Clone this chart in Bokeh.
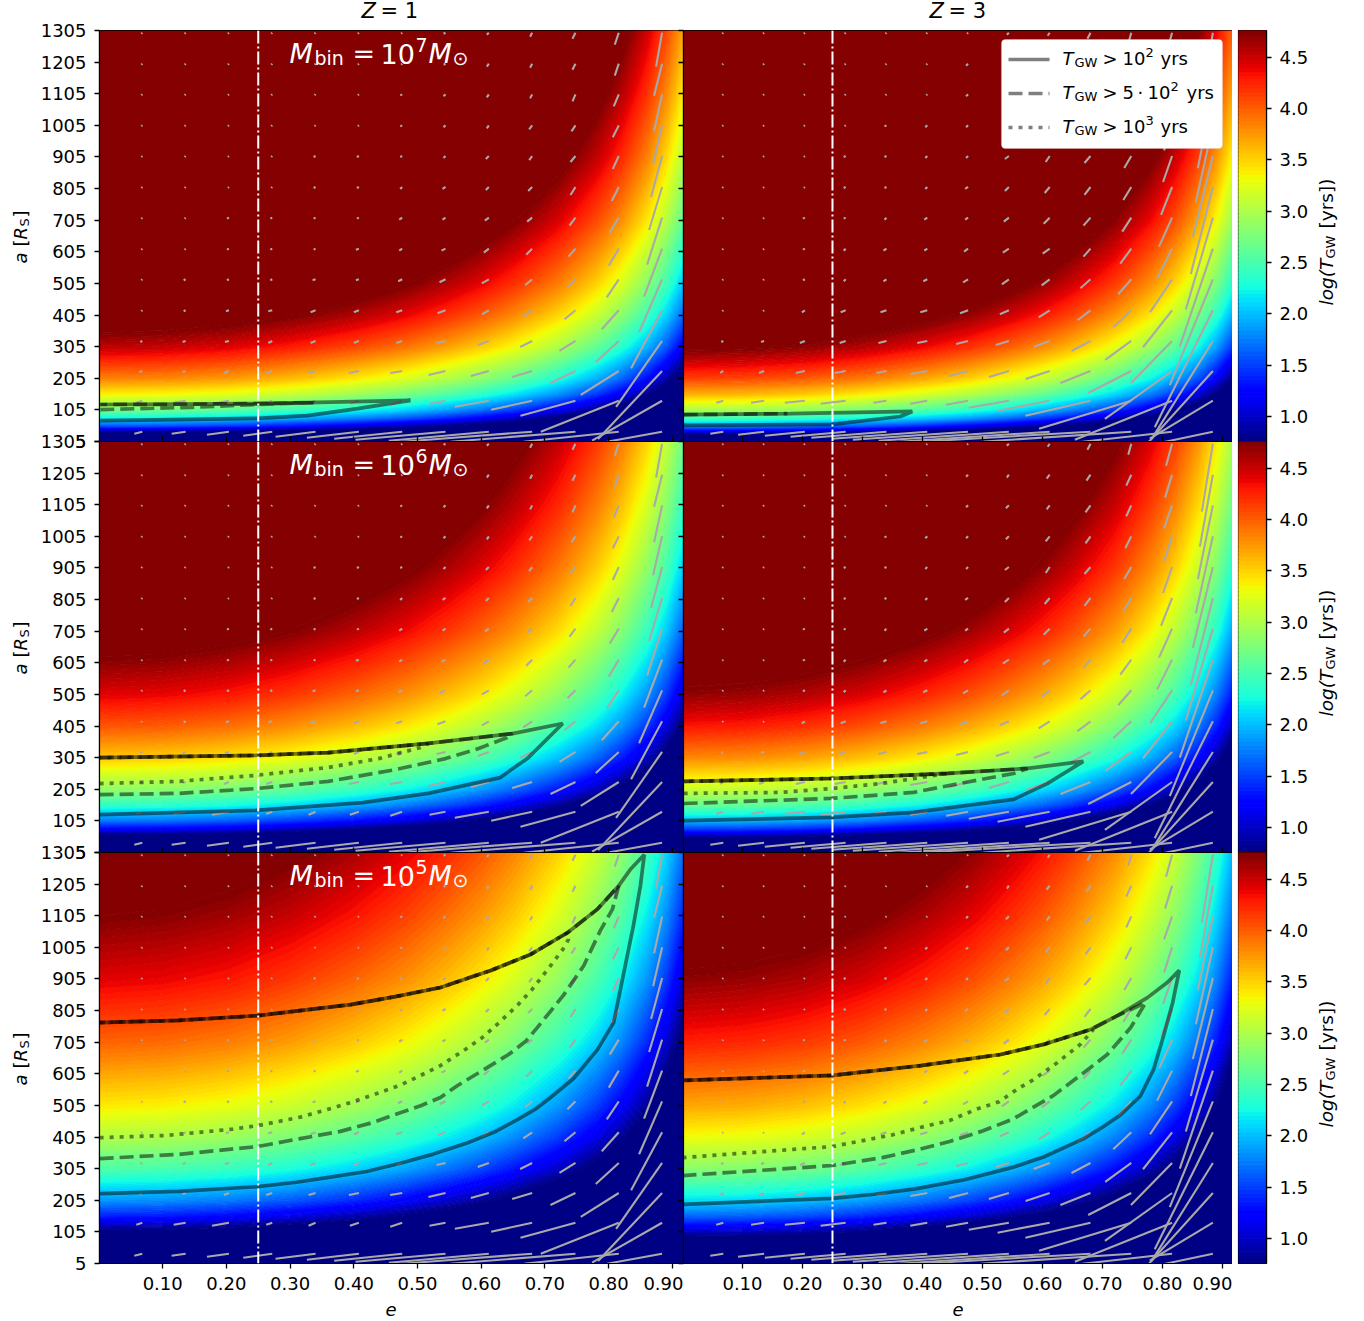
import numpy as np
from bokeh.plotting import figure
from bokeh.layouts import row, column
from bokeh.models import FixedTicker, NumeralTickFormatter, Label, Span, BoxAnnotation, LinearAxis
from bokeh.embed import file_html
from bokeh.resources import INLINE

# ---- data -----------------------------------------------------------------
e_ticks = [0.10, 0.20, 0.30, 0.40, 0.50, 0.60, 0.70, 0.80, 0.90]
a_ticks = [5, 105, 205, 305, 405, 505, 605, 705, 805, 905, 1005, 1105, 1205, 1305]
cb_ticks = [1.0, 1.5, 2.0, 2.5, 3.0, 3.5, 4.0, 4.5]

# log10(T_GW) read on a sparse (a, e) table, one table per panel
field_e = [0.0, 0.2, 0.4, 0.55, 0.65, 0.72, 0.78, 0.82, 0.86, 0.89, 0.92]
field_e_extra = [0.1, 0.3, 0.48, 0.6]
field_a = [5, 30, 55, 80, 105, 155, 205, 305, 405, 505, 705, 905, 1105, 1305]

log_t_m7_z1 = [
    [-2.60,-2.71,-3.04,-3.44,-3.81,-4.14,-4.50,-4.80,-5.18,-5.55,-6.03],
    [0.51,0.40,0.07,-0.33,-0.70,-1.03,-1.39,-1.69,-2.07,-2.44,-2.92],
    [1.56,1.45,1.12,0.72,0.35,0.02,-0.34,-0.64,-1.02,-1.39,-1.87],
    [2.21,2.10,1.77,1.37,1.00,0.67,0.31,0.01,-0.37,-0.74,-1.22],
    [2.69,2.58,2.25,1.85,1.48,1.15,0.79,0.49,0.11,-0.26,-0.74],
    [3.36,3.25,2.92,2.52,2.15,1.82,1.46,1.16,0.78,0.41,-0.07],
    [3.85,3.74,3.41,3.01,2.64,2.31,1.95,1.65,1.27,0.90,0.42],
    [4.54,4.43,4.10,3.70,3.33,3.00,2.64,2.34,1.96,1.59,1.11],
    [5.03,4.92,4.59,4.19,3.82,3.49,3.13,2.83,2.45,2.08,1.60],
    [5.41,5.30,4.97,4.57,4.20,3.87,3.51,3.21,2.83,2.46,1.98],
    [5.99,5.88,5.55,5.15,4.78,4.45,4.09,3.79,3.41,3.04,2.56],
    [6.43,6.32,5.99,5.59,5.22,4.89,4.53,4.23,3.85,3.48,3.00],
    [6.77,6.66,6.33,5.93,5.56,5.23,4.87,4.57,4.19,3.82,3.34],
    [7.06,6.95,6.62,6.22,5.85,5.52,5.16,4.86,4.48,4.11,3.63],
]
log_t_m7_z1_extra = [
    [-2.63,-2.85,-3.23,-3.61],[0.48,0.26,-0.12,-0.50],[1.53,1.31,0.93,0.55],[2.18,1.96,1.58,1.20],
    [2.66,2.44,2.06,1.68],[3.33,3.11,2.73,2.35],[3.82,3.60,3.22,2.84],[4.51,4.29,3.91,3.53],
    [5.00,4.78,4.40,4.02],[5.38,5.16,4.78,4.40],[5.96,5.74,5.36,4.98],[6.40,6.18,5.80,5.42],
    [6.74,6.52,6.14,5.76],[7.03,6.81,6.43,6.05],
]
log_t_m7_z3 = [
    [-2.32,-2.43,-2.76,-3.16,-3.53,-3.86,-4.22,-4.52,-4.90,-5.27,-5.75],
    [0.79,0.68,0.35,-0.05,-0.42,-0.75,-1.11,-1.41,-1.79,-2.16,-2.64],
    [1.84,1.73,1.40,1.00,0.63,0.30,-0.06,-0.36,-0.74,-1.11,-1.59],
    [2.49,2.38,2.05,1.65,1.28,0.95,0.59,0.29,-0.09,-0.46,-0.94],
    [2.97,2.86,2.53,2.13,1.76,1.43,1.07,0.77,0.39,0.02,-0.46],
    [3.64,3.53,3.20,2.80,2.43,2.10,1.74,1.44,1.06,0.69,0.21],
    [4.13,4.02,3.69,3.29,2.92,2.59,2.23,1.93,1.55,1.18,0.70],
    [4.82,4.71,4.38,3.98,3.61,3.28,2.92,2.62,2.24,1.87,1.39],
    [5.31,5.20,4.87,4.47,4.10,3.77,3.41,3.11,2.73,2.36,1.88],
    [5.69,5.58,5.25,4.85,4.48,4.15,3.79,3.49,3.11,2.74,2.26],
    [6.27,6.16,5.83,5.43,5.06,4.73,4.37,4.07,3.69,3.32,2.84],
    [6.71,6.60,6.27,5.87,5.50,5.17,4.81,4.51,4.13,3.76,3.28],
    [7.05,6.94,6.61,6.21,5.84,5.51,5.15,4.85,4.47,4.10,3.62],
    [7.34,7.23,6.90,6.50,6.13,5.80,5.44,5.14,4.76,4.39,3.91],
]
log_t_m7_z3_extra = [
    [-2.35,-2.57,-2.95,-3.33],[0.76,0.54,0.16,-0.22],[1.81,1.59,1.21,0.83],[2.46,2.24,1.86,1.48],
    [2.94,2.72,2.34,1.96],[3.61,3.39,3.01,2.63],[4.10,3.88,3.50,3.12],[4.79,4.57,4.19,3.81],
    [5.28,5.06,4.68,4.30],[5.66,5.44,5.06,4.68],[6.24,6.02,5.64,5.26],[6.68,6.46,6.08,5.70],
    [7.02,6.80,6.42,6.04],[7.31,7.09,6.71,6.33],
]
log_t_m6_z1 = [
    [-3.59,-3.70,-4.03,-4.43,-4.80,-5.13,-5.49,-5.79,-6.17,-6.54,-7.02],
    [-0.48,-0.59,-0.92,-1.32,-1.69,-2.02,-2.38,-2.68,-3.06,-3.43,-3.91],
    [0.57,0.46,0.13,-0.27,-0.64,-0.97,-1.33,-1.63,-2.01,-2.38,-2.86],
    [1.22,1.11,0.78,0.38,0.01,-0.32,-0.68,-0.98,-1.36,-1.73,-2.21],
    [1.70,1.59,1.26,0.86,0.49,0.16,-0.20,-0.50,-0.88,-1.25,-1.73],
    [2.37,2.26,1.93,1.53,1.16,0.83,0.47,0.17,-0.21,-0.58,-1.06],
    [2.86,2.75,2.42,2.02,1.65,1.32,0.96,0.66,0.28,-0.09,-0.57],
    [3.55,3.44,3.11,2.71,2.34,2.01,1.65,1.35,0.97,0.60,0.12],
    [4.04,3.93,3.60,3.20,2.83,2.50,2.14,1.84,1.46,1.09,0.61],
    [4.42,4.31,3.98,3.58,3.21,2.88,2.52,2.22,1.84,1.47,0.99],
    [5.00,4.89,4.56,4.16,3.79,3.46,3.10,2.80,2.42,2.05,1.57],
    [5.44,5.33,5.00,4.60,4.23,3.90,3.54,3.24,2.86,2.49,2.01],
    [5.78,5.67,5.34,4.94,4.57,4.24,3.88,3.58,3.20,2.83,2.35],
    [6.07,5.96,5.63,5.23,4.86,4.53,4.17,3.87,3.49,3.12,2.64],
]
log_t_m6_z1_extra = [
    [-3.62,-3.84,-4.22,-4.60],[-0.51,-0.73,-1.11,-1.49],[0.54,0.32,-0.06,-0.44],[1.19,0.97,0.59,0.21],
    [1.67,1.45,1.07,0.69],[2.34,2.12,1.74,1.36],[2.83,2.61,2.23,1.85],[3.52,3.30,2.92,2.54],
    [4.01,3.79,3.41,3.03],[4.39,4.17,3.79,3.41],[4.97,4.75,4.37,3.99],[5.41,5.19,4.81,4.43],
    [5.75,5.53,5.15,4.77],[6.04,5.82,5.44,5.06],
]
log_t_m6_z3 = [
    [-3.32,-3.43,-3.76,-4.16,-4.53,-4.86,-5.22,-5.52,-5.90,-6.27,-6.75],
    [-0.21,-0.32,-0.65,-1.05,-1.42,-1.75,-2.11,-2.41,-2.79,-3.16,-3.64],
    [0.84,0.73,0.40,0.00,-0.37,-0.70,-1.06,-1.36,-1.74,-2.11,-2.59],
    [1.49,1.38,1.05,0.65,0.28,-0.05,-0.41,-0.71,-1.09,-1.46,-1.94],
    [1.97,1.86,1.53,1.13,0.76,0.43,0.07,-0.23,-0.61,-0.98,-1.46],
    [2.64,2.53,2.20,1.80,1.43,1.10,0.74,0.44,0.06,-0.31,-0.79],
    [3.13,3.02,2.69,2.29,1.92,1.59,1.23,0.93,0.55,0.18,-0.30],
    [3.82,3.71,3.38,2.98,2.61,2.28,1.92,1.62,1.24,0.87,0.39],
    [4.31,4.20,3.87,3.47,3.10,2.77,2.41,2.11,1.73,1.36,0.88],
    [4.69,4.58,4.25,3.85,3.48,3.15,2.79,2.49,2.11,1.74,1.26],
    [5.27,5.16,4.83,4.43,4.06,3.73,3.37,3.07,2.69,2.32,1.84],
    [5.71,5.60,5.27,4.87,4.50,4.17,3.81,3.51,3.13,2.76,2.28],
    [6.05,5.94,5.61,5.21,4.84,4.51,4.15,3.85,3.47,3.10,2.62],
    [6.34,6.23,5.90,5.50,5.13,4.80,4.44,4.14,3.76,3.39,2.91],
]
log_t_m6_z3_extra = [
    [-3.35,-3.57,-3.95,-4.33],[-0.24,-0.46,-0.84,-1.22],[0.81,0.59,0.21,-0.17],[1.46,1.24,0.86,0.48],
    [1.94,1.72,1.34,0.96],[2.61,2.39,2.01,1.63],[3.10,2.88,2.50,2.12],[3.79,3.57,3.19,2.81],
    [4.28,4.06,3.68,3.30],[4.66,4.44,4.06,3.68],[5.24,5.02,4.64,4.26],[5.68,5.46,5.08,4.70],
    [6.02,5.80,5.42,5.04],[6.31,6.09,5.71,5.33],
]
log_t_m5_z1 = [
    [-4.61,-4.72,-5.05,-5.45,-5.82,-6.15,-6.51,-6.81,-7.19,-7.56,-8.04],
    [-1.50,-1.61,-1.94,-2.34,-2.71,-3.04,-3.40,-3.70,-4.08,-4.45,-4.93],
    [-0.45,-0.56,-0.89,-1.29,-1.66,-1.99,-2.35,-2.65,-3.03,-3.40,-3.88],
    [0.20,0.09,-0.24,-0.64,-1.01,-1.34,-1.70,-2.00,-2.38,-2.75,-3.23],
    [0.68,0.57,0.24,-0.16,-0.53,-0.86,-1.22,-1.52,-1.90,-2.27,-2.75],
    [1.35,1.24,0.91,0.51,0.14,-0.19,-0.55,-0.85,-1.23,-1.60,-2.08],
    [1.84,1.73,1.40,1.00,0.63,0.30,-0.06,-0.36,-0.74,-1.11,-1.59],
    [2.53,2.42,2.09,1.69,1.32,0.99,0.63,0.33,-0.05,-0.42,-0.90],
    [3.02,2.91,2.58,2.18,1.81,1.48,1.12,0.82,0.44,0.07,-0.41],
    [3.40,3.29,2.96,2.56,2.19,1.86,1.50,1.20,0.82,0.45,-0.03],
    [3.98,3.87,3.54,3.14,2.77,2.44,2.08,1.78,1.40,1.03,0.55],
    [4.42,4.31,3.98,3.58,3.21,2.88,2.52,2.22,1.84,1.47,0.99],
    [4.76,4.65,4.32,3.92,3.55,3.22,2.86,2.56,2.18,1.81,1.33],
    [5.05,4.94,4.61,4.21,3.84,3.51,3.15,2.85,2.47,2.10,1.62],
]
log_t_m5_z1_extra = [
    [-4.64,-4.86,-5.24,-5.62],[-1.53,-1.75,-2.13,-2.51],[-0.48,-0.70,-1.08,-1.46],[0.17,-0.05,-0.43,-0.81],
    [0.65,0.43,0.05,-0.33],[1.32,1.10,0.72,0.34],[1.81,1.59,1.21,0.83],[2.50,2.28,1.90,1.52],
    [2.99,2.77,2.39,2.01],[3.37,3.15,2.77,2.39],[3.95,3.73,3.35,2.97],[4.39,4.17,3.79,3.41],
    [4.73,4.51,4.13,3.75],[5.02,4.80,4.42,4.04],
]
log_t_m5_z3 = [
    [-4.32,-4.43,-4.76,-5.16,-5.53,-5.86,-6.22,-6.52,-6.90,-7.27,-7.75],
    [-1.21,-1.32,-1.65,-2.05,-2.42,-2.75,-3.11,-3.41,-3.79,-4.16,-4.64],
    [-0.16,-0.27,-0.60,-1.00,-1.37,-1.70,-2.06,-2.36,-2.74,-3.11,-3.59],
    [0.49,0.38,0.05,-0.35,-0.72,-1.05,-1.41,-1.71,-2.09,-2.46,-2.94],
    [0.97,0.86,0.53,0.13,-0.24,-0.57,-0.93,-1.23,-1.61,-1.98,-2.46],
    [1.64,1.53,1.20,0.80,0.43,0.10,-0.26,-0.56,-0.94,-1.31,-1.79],
    [2.13,2.02,1.69,1.29,0.92,0.59,0.23,-0.07,-0.45,-0.82,-1.30],
    [2.82,2.71,2.38,1.98,1.61,1.28,0.92,0.62,0.24,-0.13,-0.61],
    [3.31,3.20,2.87,2.47,2.10,1.77,1.41,1.11,0.73,0.36,-0.12],
    [3.69,3.58,3.25,2.85,2.48,2.15,1.79,1.49,1.11,0.74,0.26],
    [4.27,4.16,3.83,3.43,3.06,2.73,2.37,2.07,1.69,1.32,0.84],
    [4.71,4.60,4.27,3.87,3.50,3.17,2.81,2.51,2.13,1.76,1.28],
    [5.05,4.94,4.61,4.21,3.84,3.51,3.15,2.85,2.47,2.10,1.62],
    [5.34,5.23,4.90,4.50,4.13,3.80,3.44,3.14,2.76,2.39,1.91],
]
log_t_m5_z3_extra = [
    [-4.35,-4.57,-4.95,-5.33],[-1.24,-1.46,-1.84,-2.22],[-0.19,-0.41,-0.79,-1.17],[0.46,0.24,-0.14,-0.52],
    [0.94,0.72,0.34,-0.04],[1.61,1.39,1.01,0.63],[2.10,1.88,1.50,1.12],[2.79,2.57,2.19,1.81],
    [3.28,3.06,2.68,2.30],[3.66,3.44,3.06,2.68],[4.24,4.02,3.64,3.26],[4.68,4.46,4.08,3.70],
    [5.02,4.80,4.42,4.04],[5.31,5.09,4.71,4.33],
]

# quiver grid and components (tail offsets back from each grid point)
quiver_e = [0.068, 0.136, 0.204, 0.272, 0.340, 0.408, 0.476, 0.544, 0.612, 0.680, 0.748, 0.816, 0.884]
quiver_a = [1298, 1200, 1103, 1005, 908, 810, 713, 615, 518, 420, 323, 228, 134, 36]
u_z1 = [
    [1,1,1,1,1,1,1,2,2,2,3,4,6],
    [1,1,1,1,1,1,1,2,2,2,3,4,8],
    [1,1,1,1,1,1,2,2,2,2,3,5,8],
    [1,1,1,1,1,1,2,2,2,3,4,6,9],
    [1,1,1,1,2,2,2,2,3,3,5,6,11],
    [1,1,1,1,2,2,2,3,3,4,5,7,13],
    [1,1,2,2,2,2,3,3,4,5,6,9,15],
    [1,1,2,2,2,3,3,4,5,6,7,10,18],
    [1,2,2,2,3,3,4,6,7,7,8,12,23],
    [1,2,3,4,5,5,6,8,7,9,11,17,31],
    [2,3,4,4,5,5,6,9,11,12,16,23,46],
    [3,3,5,6,7,10,12,17,18,20,25,38,64],
    [6,12,17,6,7,9,12,16,34,41,55,78,70],
    [8,14,22,29,40,52,68,90,100,130,125,95,55],
]
v_z1 = [
    [1,1,1,1,1,1,1,1,2,4,6,12,34],
    [1,1,1,1,1,1,1,1,3,4,6,12,32],
    [1,1,1,1,1,1,1,2,3,4,7,12,37],
    [1,1,1,1,1,1,1,2,3,4,6,12,39],
    [1,1,1,1,1,1,1,2,3,4,6,13,41],
    [1,1,1,1,1,1,2,2,3,4,8,14,43],
    [1,1,1,1,1,1,2,2,3,4,8,15,47],
    [1,1,1,1,1,1,2,2,4,6,8,17,48],
    [1,1,1,1,1,1,2,3,4,6,8,18,53],
    [1,1,1,1,2,2,2,3,4,6,9,19,58],
    [1,1,1,2,2,2,2,2,4,6,10,21,66],
    [1,1,2,2,2,2,2,4,5,6,12,24,68],
    [2,2,3,2,3,3,4,3,6,9,15,31,40],
    [2,2,3,4,5,6,7,8,9,10,10,10,10],
]
u_z3 = [
    [1,1,1,1,1,1,1,2,2,3,3,6,11],
    [1,1,1,1,1,1,2,2,3,4,5,7,13],
    [1,1,1,1,1,1,2,3,3,5,5,8,15],
    [1,1,1,1,2,2,2,3,4,5,6,8,17],
    [1,1,1,2,2,2,2,4,4,6,7,9,20],
    [1,1,1,2,2,2,3,4,5,6,8,11,22],
    [1,1,2,2,2,3,3,5,6,7,9,13,27],
    [1,1,2,2,3,3,4,6,7,7,11,15,33],
    [1,1,2,2,3,4,5,7,8,10,13,22,43],
    [1,1,3,5,6,7,8,9,11,13,18,29,58],
    [2,3,5,6,8,10,12,13,16,19,26,41,61],
    [3,5,9,11,10,17,19,20,24,30,43,67,64],
    [7,13,20,25,13,17,22,40,52,65,92,97,63],
    [13,26,40,55,75,95,115,130,150,170,150,98,52],
]
v_z3 = [
    [1,1,1,1,1,1,1,2,3,6,11,22,68],
    [1,1,1,1,1,1,2,3,4,6,11,23,72],
    [1,1,1,1,1,1,2,3,4,7,11,23,74],
    [1,1,1,1,1,2,2,3,5,7,12,25,77],
    [1,1,1,1,1,2,2,3,6,7,12,26,81],
    [1,1,1,1,1,2,2,4,6,8,13,28,87],
    [1,1,1,1,2,2,2,4,6,8,14,29,92],
    [1,1,1,2,2,2,3,4,5,8,15,30,98],
    [1,1,1,2,2,2,3,5,6,9,15,33,106],
    [1,1,2,2,2,2,3,4,7,10,17,37,117],
    [1,1,2,2,2,2,3,4,6,10,19,42,98],
    [2,2,2,2,2,3,5,6,8,12,22,48,71],
    [2,2,2,3,2,3,4,7,10,15,28,39,38],
    [2,3,4,5,6,7,8,9,10,10,10,11,11],
]
quiver_u_scale_z1 = 0.00157
quiver_u_scale_z3 = 0.00167
quiver_v_scale = 3.16

# T_GW region outlines, one (e, a) pair per level per panel
m7z1_solid_e = [.002,.144,.249,.327,.406,.489,.327,.249,.002]
m7z1_solid_a = [71,75,78,87,109,135,128,125,122]
m7z1_dash_e = [.002,.144,.249,.337,.249,.144,.002]
m7z1_dash_a = [106,113,122,128,125,123,122]
m7z3_solid_e = [.002,.25,.363,.383,.18,.002]
m7z3_solid_a = [56,59,84,100,93,90]
m7z3_dash_e = [.002,.175]
m7z3_dash_a = [90,93]

m6z1_solid_e = [.001,.246,.414,.517,.63,.674,.728,.649,.517,.36,.246,.001]
m6z1_solid_a = [125,138,163,192,242,305,413,381,350,321,312,305]
m6z1_dash_e = [.001,.125,.246,.36,.465,.544,.596,.641,.649,.517,.36,.246,.001]
m6z1_dash_a = [188,192,207,230,267,302,334,369,381,350,321,312,305]
m6z1_dot_e = [.001,.125,.246,.36,.439,.505,.517,.36,.246,.001]
m6z1_dot_a = [223,230,249,274,302,337,350,321,312,305]
m6z3_solid_e = [.002,.247,.385,.552,.608,.668,.575,.442,.247,.002]
m6z3_solid_a = [106,116,132,173,223,293,271,255,239,230]
m6z3_dash_e = [.002,.247,.385,.497,.552,.575,.442,.247,.002]
m6z3_dash_a = [160,176,195,236,255,271,255,239,230]
m6z3_dot_e = [.002,.163,.247,.33,.397,.442,.247,.002]
m6z3_dot_a = [192,195,207,223,242,255,239,230]

m5z1_solid_e = [.001,.125,.249,.31,.363,.42,.473,.525,.578,.62,.657,.685,.709,.745,.782,.808,.823,.839,.850,.856,.834,.816,.782,.736,.677,.615,.536,.465,.395,.249,.125,.001]
m5z1_solid_a = [226,233,248,262,278,296,322,351,386,420,460,493,530,590,680,767,916,1074,1200,1298,1251,1200,1125,1052,982,932,878,849,824,789,774,767]
m5z1_dash_e = [.001,.125,.249,.316,.379,.43,.473,.505,.536,.563,.604,.643,.67,.688,.729,.761,.787,.806,.816,.782,.736,.677,.615,.536,.465,.395,.249,.125,.001]
m5z1_dash_a = [337,350,375,400,423,451,482,504,530,568,618,666,708,751,853,947,1058,1125,1200,1125,1052,982,932,878,849,824,789,774,767]
m5z1_dot_e = [.001,.105,.21,.249,.316,.355,.395,.43,.473,.505,.536,.575,.602,.625,.658,.68,.709,.728,.737,.736,.677,.615,.536,.465,.395,.249,.125,.001]
m5z1_dot_a = [403,410,430,441,468,490,514,538,569,600,631,682,720,761,824,872,947,998,1030,1052,982,932,878,849,824,789,774,767]
m5z3_solid_e = [0,.25,.32,.388,.47,.55,.602,.668,.70,.73,.763,.785,.802,.817,.828,.808,.775,.725,.68,.602,.53,.397,.25,0]
m5z3_solid_a = [192,211,224,241,270,309,342,399,436,475,534,618,726,830,932,894,846,789,745,698,666,631,600,584]
m5z3_dash_e = [0,.25,.333,.39,.445,.5,.55,.618,.663,.708,.747,.772,.725,.68,.602,.53,.397,.25,0]
m5z3_dash_a = [283,315,340,364,391,424,461,536,600,666,751,830,789,745,698,666,631,600,584]
m5z3_dot_e = [0,.25,.35,.4,.445,.49,.528,.56,.583,.625,.663,.685,.68,.602,.53,.397,.25,0]
m5z3_dot_a = [340,375,412,437,457,493,517,559,584,641,698,745,745,698,666,631,600,584]

mass_exponents = ["7", "6", "5"]
redshift_names = ["1", "3"]
marker_e = 0.25
cb_range = (0.756, 4.76)
FONT = "DejaVu Sans"


def jet(t):
    t = np.asarray(t)
    r = np.interp(t, [0, .35, .66, .89, 1], [0, 0, 1, 1, .5])
    g = np.interp(t, [0, .125, .375, .64, .91, 1], [0, 0, 1, 1, 0, 0])
    b = np.interp(t, [0, .11, .34, .65, 1], [.5, 1, 1, 0, 0])
    return ["#%02x%02x%02x" % (int(x * 255), int(y * 255), int(z * 255)) for x, y, z in zip(r, g, b)]


N_BANDS = 100
band_edges = np.linspace(cb_range[0], cb_range[1], N_BANDS + 1)
band_colors = jet((np.arange(N_BANDS) + 0.5) / N_BANDS)
levels = [-12.0] + list(band_edges) + [12.0]
fill_palette = [band_colors[0]] + band_colors + [band_colors[-1]]
line_palette = fill_palette + [band_colors[-1]]

TOP = [30, 12, 12]
BOTTOM = [12, 12, 56]
FRAME_H = 411
PAGE_W, PAGE_H = 1350, 1320


def merged_field(main, extra):
    e_all = np.array(field_e + field_e_extra)
    z_all = np.hstack([np.array(main), np.array(extra)])
    order = np.argsort(e_all)
    return e_all[order], z_all[:, order]


def put(p, px, py, text, size=18, style="normal", color="black", angle=0.0):
    """px, py: page pixels of the start of the text's baseline."""
    shift = 0.37 * size
    if angle:
        px -= shift
    else:
        py -= shift
    p.add_layout(Label(x=px, y=PAGE_H - py, x_units="screen", y_units="screen", text=text,
                       text_font=FONT, text_font_size=f"{size}px", text_font_style=style,
                       text_color=color, angle=angle, text_baseline="alphabetic",
                       text_align="left"))


def style_common(p):
    p.background_fill_color = None
    p.border_fill_color = None
    p.outline_line_color = "black"
    p.outline_line_width = 1.2
    p.grid.visible = False


def tick_style(ax, ticks, labels=True):
    ax.major_tick_out = 5
    ax.major_tick_in = 0
    ax.minor_tick_out = 0
    ax.minor_tick_in = 0
    ax.major_tick_line_color = "black"
    ax.major_tick_line_width = 1.3
    ax.axis_line_color = "black"
    ax.axis_line_width = 1.2
    ax.major_label_text_font = FONT
    ax.major_label_text_color = "black"
    if labels:
        ax.major_label_text_font_size = "18px"
        ax.major_label_standoff = 8
    else:
        ax.major_label_text_font_size = "1px"
        ax.major_label_standoff = 0
        ax.major_label_overrides = {t: "" for t in ticks}


def panel(row_i, col_i, field, extra, u, v, outlines):
    left = col_i == 0
    frame_w = 584 if left else 549
    xr = (0.0008, 0.9176) if left else (0.0017, 0.9167)
    p = figure(frame_width=frame_w, frame_height=FRAME_H, x_range=xr, y_range=(5, 1305),
               output_backend="svg", toolbar_location=None,
               min_border_left=99 if left else 8, min_border_right=0,
               min_border_top=TOP[row_i], min_border_bottom=BOTTOM[row_i],
               x_axis_location=None, y_axis_location=None)
    style_common(p)
    fe, fz = merged_field(field, extra)
    p.contour(fe, field_a, fz, levels, fill_color=fill_palette, line_color=line_palette, line_width=1.2)

    qe = np.repeat(np.array(quiver_e)[None, :], len(quiver_a), axis=0)
    qa = np.repeat(np.array(quiver_a)[:, None], len(quiver_e), axis=1)
    su = quiver_u_scale_z1 if left else quiver_u_scale_z3
    p.segment(qe.ravel(), qa.ravel(), (qe - np.array(u) * su).ravel(), (qa - np.array(v) * quiver_v_scale).ravel(),
              line_color="#a9a9a9", line_width=2.1)

    for kind, xs, ys in outlines:
        dash = {"solid": "solid", "dash": "14 6", "dot": "4 6"}[kind]
        p.line(xs, ys, line_color="black", line_alpha=0.5, line_width=3.7, line_dash=dash)

    p.add_layout(Span(location=marker_e, dimension="height", line_color="white", line_width=2,
                      line_dash="13 3 2 3"))

    yax = LinearAxis(ticker=FixedTicker(ticks=a_ticks))
    tick_style(yax, a_ticks, labels=left)
    p.add_layout(yax, "left")
    if row_i > 0:
        xtop = LinearAxis(ticker=FixedTicker(ticks=e_ticks))
        tick_style(xtop, e_ticks, labels=False)
        p.add_layout(xtop, "above")
    if row_i == 2:
        xax = LinearAxis(ticker=FixedTicker(ticks=e_ticks), formatter=NumeralTickFormatter(format="0.00"))
        tick_style(xax, e_ticks)
        p.add_layout(xax, "below")
    return p


def add_mass_label(o, bottom, exponent):
    base = bottom - 378
    x0 = 289
    put(o, x0, base, "M", 27, "italic", "white")
    put(o, x0 + 25, base + 2, "bin", 19, "normal", "white")
    put(o, x0 + 63, base, "=", 27, "normal", "white")
    put(o, x0 + 91, base, "10", 27, "normal", "white")
    put(o, x0 + 126, base - 11, exponent, 19, "normal", "white")
    put(o, x0 + 139, base, "M", 27, "italic", "white")
    put(o, x0 + 163, base + 2, "\u2299", 19, "normal", "white")


def add_ylabel(o, bottom):
    a90 = np.pi / 2
    x = 27
    put(o, x, bottom - 178, "a", 18, "italic", angle=a90)
    put(o, x, bottom - 195, "[", 18, "normal", angle=a90)
    put(o, x, bottom - 202, "R", 18, "italic", angle=a90)
    put(o, x + 2, bottom - 215, "S", 13, "normal", angle=a90)
    put(o, x, bottom - 224, "]", 18, "normal", angle=a90)


def add_cb_label(o, bottom):
    a90 = np.pi / 2
    x = 1333
    put(o, x, bottom - 136, "log(T", 18.5, "italic", angle=a90)
    put(o, x + 2, bottom - 183, "GW", 13, "normal", angle=a90)
    put(o, x, bottom - 213, "[yrs])", 18.5, "normal", angle=a90)


def add_legend(p, o):
    sx = lambda px: p.x_range.start + (px - 683) / 600.0
    sy = lambda py: 5 + (441 - py) * 1300 / 411.0
    p.add_layout(BoxAnnotation(left=sx(1001), right=sx(1222), top=sy(39), bottom=sy(148),
                               fill_color="white", fill_alpha=1.0, line_color="#d0d0d0",
                               line_width=1.2, border_radius=4))
    rows_ = [(59, "solid", 65, "10", "2", "yrs", None),
             (93, "14 6", 99, "10", "2", "yrs", "5"),
             (127, "4 6", 133, "10", "3", "yrs", None)]
    for ly, dash, base_y, ten, exp, unit, five in rows_:
        p.line([sx(1008), sx(1049)], [sy(ly), sy(ly)], line_color="black", line_alpha=0.5,
               line_width=3.7, line_dash=dash, level="overlay")
        put(o, 1062, base_y, "T", 18, "italic")
        put(o, 1074, base_y + 2, "GW", 13)
        put(o, 1102, base_y, ">", 18)
        if five:
            put(o, 1122, base_y, five, 18)
            put(o, 1137, base_y, "\u00b7", 18)
            put(o, 1147, base_y, ten, 18)
            put(o, 1170, base_y - 8, exp, 13)
            put(o, 1186, base_y, unit, 18)
        else:
            put(o, 1122, base_y, ten, 18)
            put(o, 1145, base_y - 8, exp, 13)
            put(o, 1160, base_y, unit, 18)


def colorbar(row_i):
    p = figure(frame_width=28, frame_height=FRAME_H, x_range=(0, 1), y_range=cb_range,
               output_backend="svg", toolbar_location=None, min_border_left=6, min_border_right=84,
               min_border_top=TOP[row_i], min_border_bottom=BOTTOM[row_i],
               x_axis_location=None, y_axis_location=None)
    style_common(p)
    p.quad(left=0, right=1, bottom=band_edges[:-1], top=band_edges[1:], fill_color=band_colors,
           line_color=band_colors, line_width=1)
    ax = LinearAxis(ticker=FixedTicker(ticks=cb_ticks), formatter=NumeralTickFormatter(format="0.0"))
    tick_style(ax, cb_ticks)
    p.add_layout(ax, "right")
    return p


field_tables = [(log_t_m7_z1, log_t_m7_z1_extra, log_t_m7_z3, log_t_m7_z3_extra),
                (log_t_m6_z1, log_t_m6_z1_extra, log_t_m6_z3, log_t_m6_z3_extra),
                (log_t_m5_z1, log_t_m5_z1_extra, log_t_m5_z3, log_t_m5_z3_extra)]
outline_tables = [
    ([("solid", m7z1_solid_e, m7z1_solid_a), ("dash", m7z1_dash_e, m7z1_dash_a)],
     [("solid", m7z3_solid_e, m7z3_solid_a), ("dash", m7z3_dash_e, m7z3_dash_a)]),
    ([("solid", m6z1_solid_e, m6z1_solid_a), ("dash", m6z1_dash_e, m6z1_dash_a), ("dot", m6z1_dot_e, m6z1_dot_a)],
     [("solid", m6z3_solid_e, m6z3_solid_a), ("dash", m6z3_dash_e, m6z3_dash_a), ("dot", m6z3_dot_e, m6z3_dot_a)]),
    ([("solid", m5z1_solid_e, m5z1_solid_a), ("dash", m5z1_dash_e, m5z1_dash_a), ("dot", m5z1_dot_e, m5z1_dot_a)],
     [("solid", m5z3_solid_e, m5z3_solid_a), ("dash", m5z3_dash_e, m5z3_dash_a), ("dot", m5z3_dot_e, m5z3_dot_a)]),
]

# a transparent sheet over the whole page that carries every composed text
sheet = figure(frame_width=PAGE_W, frame_height=PAGE_H, x_range=(0, PAGE_W), y_range=(0, PAGE_H),
               output_backend="svg", toolbar_location=None, min_border=0,
               x_axis_location=None, y_axis_location=None)
sheet.background_fill_color = None
sheet.border_fill_color = None
sheet.outline_line_color = None
sheet.grid.visible = False
sheet.margin = (-PAGE_H, 0, 0, 0)

ROW_BOTTOMS = [441, 852, 1263]
rows = []
for i in range(3):
    ft = field_tables[i]
    left = panel(i, 0, ft[0], ft[1], u_z1, v_z1, outline_tables[i][0])
    right = panel(i, 1, ft[2], ft[3], u_z3, v_z3, outline_tables[i][1])
    add_mass_label(sheet, ROW_BOTTOMS[i], mass_exponents[i])
    add_ylabel(sheet, ROW_BOTTOMS[i])
    add_cb_label(sheet, ROW_BOTTOMS[i])
    if i == 0:
        add_legend(right, sheet)
    right.margin = (0, 0, 0, -8)
    cb = colorbar(i)
    r = row(left, right, cb, spacing=0)
    if i > 0:
        r.margin = (-24, 0, 0, 0)
    rows.append(r)

put(sheet, 361, 18, "Z", 21, "italic")
put(sheet, 380, 18, "= " + redshift_names[0], 21)
put(sheet, 929, 18, "Z", 21, "italic")
put(sheet, 948, 18, "= " + redshift_names[1], 21)
put(sheet, 385, 1316, "e", 18, "italic")
put(sheet, 952, 1316, "e", 18, "italic")

stack = column(*rows, spacing=0)
stack.height = PAGE_H
page = column(stack, sheet, spacing=0)
open("out.html", "w").write(file_html(page, INLINE))
